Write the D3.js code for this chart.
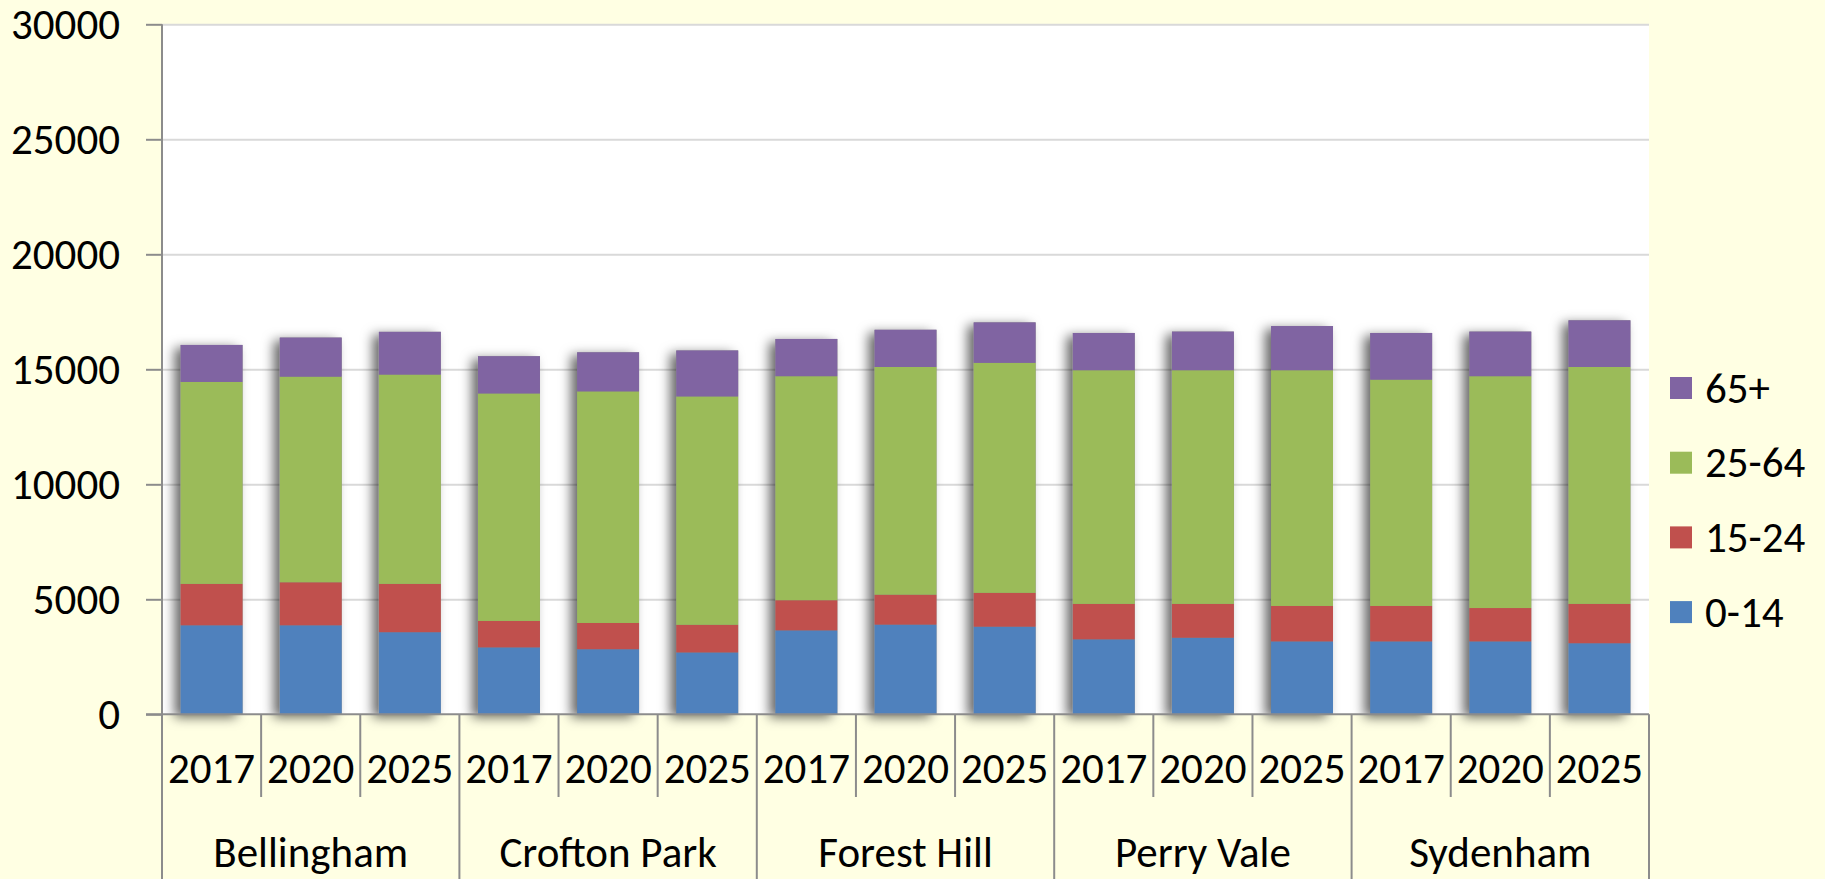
<!DOCTYPE html>
<html>
<head>
<meta charset="utf-8">
<script src="https://cdn.jsdelivr.net/npm/d3@7"></script>
<style>
  html, body { margin: 0; padding: 0; background: #FFFFE3; }
  svg { display: block; }
  text { font-family: Carlito, Lato, "Open Sans", sans-serif; fill: #000; }
</style>
</head>
<body>
<svg id="chart" width="1825" height="879"></svg>
<script>
// Wards and projection years
const wards = ["Bellingham", "Crofton Park", "Forest Hill", "Perry Vale", "Sydenham"];
const years = ["2017", "2020", "2025"];
const ageBands = ["0-14", "15-24", "25-64", "65+"];
const yTicks = [0, 5000, 10000, 15000, 20000, 25000, 30000];

// Population by age band, one entry per ward/year (ward-major order)
const age0to14  = [3870, 3870, 3570, 2910, 2830, 2690, 3650, 3900, 3810, 3260, 3330, 3170, 3170, 3170, 3090];
const age15to24 = [1800, 1870, 2100, 1150, 1140, 1200, 1310, 1300, 1470, 1540, 1470, 1540, 1540, 1450, 1710];
const age25to64 = [8780, 8940, 9100, 9890, 10070, 9930, 9740, 9900, 10000, 10160, 10160, 10250, 9840, 10080, 10300];
const age65plus = [1610, 1700, 1860, 1620, 1700, 2000, 1620, 1620, 1760, 1620, 1680, 1920, 2030, 1940, 2030];

const colors = ["#4F81BD", "#C0504D", "#9BBB59", "#8064A2"];
const fontSize = 43;

const rows = [];
wards.forEach((w, wi) => years.forEach((yr, yi) => {
  const i = wi * 3 + yi;
  rows.push({ key: w + "|" + yr, ward: w, year: yr,
    "0-14": age0to14[i], "15-24": age15to24[i], "25-64": age25to64[i], "65+": age65plus[i] });
}));

const svg = d3.select("#chart");
const plotLeft = 162, plotRight = 1649, plotTop = 24.3, plotBottom = 714.3;

const y = d3.scaleLinear().domain([0, 30000]).range([plotBottom, plotTop]);
const keys = rows.map(r => r.key);
const xCat = d3.scaleBand().domain(keys).range([plotLeft, plotRight]).padding(0);
const xBar = d3.scaleBand().domain(keys).range([plotLeft, plotRight]).paddingInner(0.375).paddingOuter(0.1875);

// Drop shadow for the bars
const defs = svg.append("defs");
const f = defs.append("filter").attr("id", "barShadow")
  .attr("x", "-40%").attr("y", "-10%").attr("width", "180%").attr("height", "120%");
f.append("feDropShadow").attr("dx", -6).attr("dy", 3).attr("stdDeviation", 6)
  .attr("flood-color", "#000").attr("flood-opacity", 0.6);

// Plot area
svg.append("rect").attr("x", plotLeft).attr("y", plotTop)
  .attr("width", plotRight - plotLeft).attr("height", plotBottom - plotTop).attr("fill", "#fff");

// Gridlines
svg.append("g")
  .attr("transform", `translate(${plotLeft},0)`)
  .call(d3.axisLeft(y).tickValues(yTicks.slice(1)).tickSize(-(plotRight - plotLeft)).tickFormat(""))
  .call(g => g.select(".domain").remove())
  .call(g => g.selectAll("line").attr("stroke", "#D9D9D9").attr("stroke-width", 2));

// Stacked bars
const stack = d3.stack().keys(ageBands)(rows);

svg.append("g").selectAll("rect.shadow").data(rows).join("rect")
  .attr("class", "shadow")
  .attr("x", d => xBar(d.key)).attr("width", xBar.bandwidth())
  .attr("y", d => y(d3.sum(ageBands, k => d[k])))
  .attr("height", d => y(0) - y(d3.sum(ageBands, k => d[k])))
  .attr("fill", "#888").attr("filter", "url(#barShadow)");

svg.append("g").selectAll("g").data(stack).join("g")
  .attr("fill", (d, i) => colors[i])
  .selectAll("rect").data(d => d).join("rect")
  .attr("x", d => xBar(d.data.key)).attr("width", xBar.bandwidth())
  .attr("y", d => y(d[1])).attr("height", d => y(d[0]) - y(d[1]));

// Y axis
svg.append("g")
  .attr("transform", `translate(${plotLeft},0)`)
  .call(d3.axisLeft(y).tickValues(yTicks).tickSize(16).tickPadding(26).tickFormat(d3.format("d")))
  .call(g => g.select(".domain").remove())
  .call(g => g.selectAll("line").attr("stroke", "#8C8C8C").attr("stroke-width", 2))
  .call(g => g.selectAll("text").attr("font-size", fontSize).attr("fill", "#000")
    .style("font-family", "Carlito, Lato, 'Open Sans', sans-serif"));

const axisColor = "#8C8C8C";
// Left axis line down to the bottom of the category labels
svg.append("line").attr("x1", plotLeft).attr("x2", plotLeft).attr("y1", plotTop).attr("y2", 879)
  .attr("stroke", axisColor).attr("stroke-width", 2);
// Category axis baseline
svg.append("line").attr("x1", plotLeft - 16).attr("x2", plotRight).attr("y1", plotBottom).attr("y2", plotBottom)
  .attr("stroke", axisColor).attr("stroke-width", 2);

// Year separators
const xa = svg.append("g");
rows.forEach((r, i) => {
  if (i === 0) return;
  const bx = xCat(r.key);
  const isWardEdge = i % 3 === 0;
  xa.append("line").attr("x1", bx).attr("x2", bx)
    .attr("y1", plotBottom).attr("y2", isWardEdge ? 879 : 797)
    .attr("stroke", axisColor).attr("stroke-width", 2);
});
xa.append("line").attr("x1", plotRight).attr("x2", plotRight).attr("y1", plotBottom).attr("y2", 879)
  .attr("stroke", axisColor).attr("stroke-width", 2);

// Year labels
xa.selectAll("text.year").data(rows).join("text")
  .attr("class", "year")
  .attr("x", d => xCat(d.key) + xCat.bandwidth() / 2).attr("y", 768)
  .attr("text-anchor", "middle").attr("dominant-baseline", "central")
  .attr("font-size", fontSize).text(d => d.year);

// Ward labels
xa.selectAll("text.ward").data(wards).join("text")
  .attr("class", "ward")
  .attr("x", w => xCat(w + "|2017") + xCat.bandwidth() * 1.5).attr("y", 852)
  .attr("text-anchor", "middle").attr("dominant-baseline", "central")
  .attr("font-size", fontSize).text(w => w);

// Legend (top entry is the last series)
const legend = svg.append("g");
const legendItems = ageBands.map((b, i) => ({ band: b, color: colors[i] })).reverse();
legendItems.forEach((d, i) => {
  const cy = 388 + i * 74.7;
  legend.append("rect").attr("x", 1670).attr("y", cy - 11).attr("width", 22).attr("height", 22)
    .attr("fill", d.color);
  legend.append("text").attr("x", 1705).attr("y", cy)
    .attr("dominant-baseline", "central").attr("font-size", fontSize).text(d.band);
});
</script>
</body>
</html>
